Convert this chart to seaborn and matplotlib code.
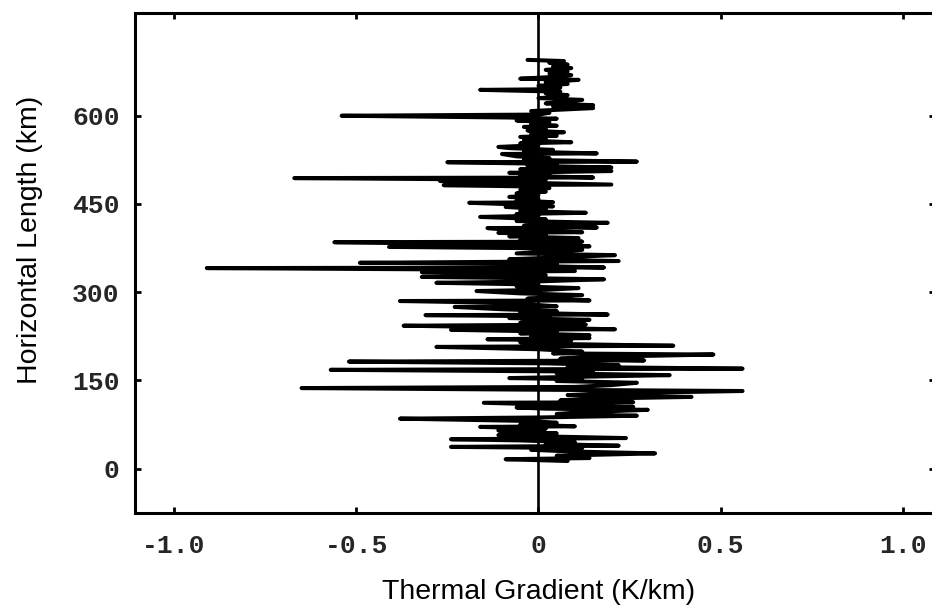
import matplotlib
matplotlib.use("Agg")
import matplotlib.pyplot as plt
import seaborn as sns
import pandas as pd

# Horizontal length (km) along the profile and thermal gradient (K/km)
length_km = [
    13, 16, 18, 22, 26, 29, 32, 35, 37, 39, 42, 45, 48, 50, 52, 55, 57, 60, 63, 65,
    68, 71, 72, 75, 78, 81, 85, 87, 90, 93, 96, 100, 102, 104, 105, 108, 112, 113, 116, 119,
    122, 125, 128, 132, 134, 137, 139, 142, 146, 149, 152, 154, 156, 159, 162, 165, 168, 170, 173, 176,
    179, 182, 184, 187, 190, 194, 196, 199, 203, 207, 209, 212, 215, 218, 220, 222, 225, 227, 230, 233,
    236, 237, 240, 243, 245, 248, 251, 253, 256, 259, 261, 262, 265, 268, 271, 275, 276, 279, 282, 285,
    286, 289, 292, 295, 298, 302, 304, 307, 310, 313, 316, 318, 322, 324, 326, 329, 332, 334, 336, 338,
    341, 342, 345, 348, 350, 352, 353, 356, 359, 363, 366, 369, 372, 375, 377, 378, 381, 385, 386, 389,
    392, 395, 398, 401, 402, 405, 409, 410, 413, 416, 418, 421, 424, 428, 430, 433, 435, 438, 441, 445,
    446, 449, 452, 453, 456, 459, 462, 465, 468, 471, 474, 477, 480, 482, 483, 486, 489, 491, 494, 495,
    498, 501, 503, 506, 509, 512, 515, 518, 521, 522, 525, 528, 531, 535, 536, 539, 542, 545, 547, 550,
    553, 555, 558, 561, 564, 566, 569, 572, 575, 578, 581, 583, 586, 589, 592, 595, 597, 600, 602, 605,
    608, 611, 613, 616, 618, 621, 624, 627, 630, 632, 635, 638, 641, 644, 645, 648, 651, 654, 657, 661,
    663, 666, 669, 672, 675, 678, 681, 684, 687, 690, 693, 695,
]
gradient = [
    0.08, -0.09, 0.14, 0.05, 0.32, 0.10, -0.02, 0.12, -0.24, 0.22, 0.02, 0.10, -0.05, -0.24, 0.24, 0.00, -0.11, 0.05, -0.08, -0.11,
    0.02, -0.16, 0.10, -0.05, 0.05, -0.02, -0.38, 0.00, 0.27, 0.05, 0.12, 0.30, 0.02, -0.06, 0.26, 0.08, -0.15, 0.26, 0.06, 0.15,
    0.42, 0.08, 0.18, 0.56, 0.05, -0.65, 0.10, 0.20, 0.27, 0.05, 0.12, -0.08, 0.10, 0.36, 0.05, 0.15, -0.57, 0.56, 0.08, 0.22,
    0.02, -0.52, 0.29, 0.06, 0.15, 0.48, 0.04, 0.12, 0.00, -0.28, 0.37, 0.05, -0.05, 0.09, -0.14, 0.14, -0.02, 0.14, -0.05, 0.05,
    -0.24, 0.21, -0.04, -0.37, 0.13, -0.05, 0.02, 0.14, -0.08, 0.03, -0.31, 0.19, -0.05, 0.05, -0.10, -0.23, 0.05, -0.02, -0.10, -0.38,
    0.14, -0.03, 0.05, 0.12, -0.05, -0.17, 0.02, 0.11, -0.06, 0.00, -0.28, -0.02, 0.18, -0.05, -0.32, 0.02, -0.08, -0.32, 0.10, -0.05,
    -0.91, 0.18, -0.04, 0.05, -0.49, 0.00, 0.22, -0.08, 0.05, 0.21, -0.06, 0.03, 0.12, -0.05, -0.41, 0.14, -0.04, -0.56, 0.12, -0.05,
    0.11, -0.08, 0.02, -0.11, 0.12, -0.06, -0.14, 0.16, -0.04, 0.05, 0.19, -0.06, 0.02, -0.16, 0.00, -0.06, 0.13, -0.05, 0.02, -0.09,
    0.04, -0.05, -0.19, 0.04, -0.06, 0.00, -0.08, 0.00, -0.06, 0.02, -0.05, 0.03, -0.05, -0.26, 0.20, -0.03, -0.27, 0.02, -0.67, 0.15,
    -0.05, 0.03, -0.08, 0.20, -0.05, 0.20, -0.03, 0.05, -0.25, 0.27, -0.04, 0.03, -0.06, -0.10, 0.16, -0.04, 0.04, -0.08, -0.11, 0.00,
    -0.05, 0.09, -0.04, 0.02, -0.05, 0.05, -0.02, 0.07, -0.03, 0.02, -0.04, 0.05, -0.02, 0.03, -0.06, 0.05, -0.08, -0.54, 0.00, 0.03,
    -0.02, 0.08, 0.15, 0.04, 0.15, 0.02, 0.08, 0.12, 0.00, 0.06, 0.08, 0.02, 0.06, -0.16, 0.02, 0.06, 0.00, 0.08, 0.02, 0.11,
    -0.05, 0.04, 0.09, 0.03, 0.08, 0.02, 0.09, 0.04, 0.08, 0.03, 0.07, -0.03,
]

x_ticks = [-1.0, -0.5, 0.0, 0.5, 1.0]
x_tick_labels = ["-1.0", "-0.5", "0", "0.5", "1.0"]
y_ticks = [0, 150, 300, 450, 600]
y_tick_labels = ["0", "150", "300", "450", "600"]

df = pd.DataFrame({"length": length_km, "gradient": gradient})

sns.set_style("white")
plt.rcParams["font.family"] = ["Liberation Sans", "DejaVu Sans"]

fig = plt.figure(figsize=(9.32, 6.14), dpi=100)
ax = fig.add_axes([135 / 932, 1 - 513 / 614, 800 / 932, 500 / 614])

ax.axvline(0, color="black", lw=1.9, zorder=1)
sns.lineplot(data=df, x="gradient", y="length", sort=False, estimator=None,
             color="black", lw=2.9, ax=ax, zorder=2)

ax.set_xlim(-1.107, 1.088)
ax.set_ylim(-75.4, 774.7)

ax.set_xticks(x_ticks)
ax.set_xticklabels(x_tick_labels)
ax.set_yticks(y_ticks)
ax.set_yticklabels(y_tick_labels)

for lab in ax.get_xticklabels() + ax.get_yticklabels():
    lab.set_family(["Liberation Mono", "DejaVu Sans Mono"])
    lab.set_fontweight("bold")
    lab.set_fontsize(19)

ax.tick_params(axis="both", direction="in", length=4, width=2, color="black",
               top=True, right=True, bottom=True, left=True)
ax.tick_params(axis="x", pad=15)
ax.tick_params(axis="y", pad=11)

for side in ["left", "bottom", "top", "right"]:
    ax.spines[side].set_visible(True)
    ax.spines[side].set_color("black")
    ax.spines[side].set_linewidth(2.2)

ax.set_xlabel("Thermal Gradient (K/km)", fontsize=20.5, color="black")
ax.set_ylabel("Horizontal Length (km)", fontsize=20.5, color="black")
ax.xaxis.label.set_va("center")
ax.yaxis.label.set_va("center")
ax.xaxis.set_label_coords(0.504, -0.158)
ax.yaxis.set_label_coords(-0.131, 0.546)

fig.savefig("out.png", dpi=100, facecolor="white")
